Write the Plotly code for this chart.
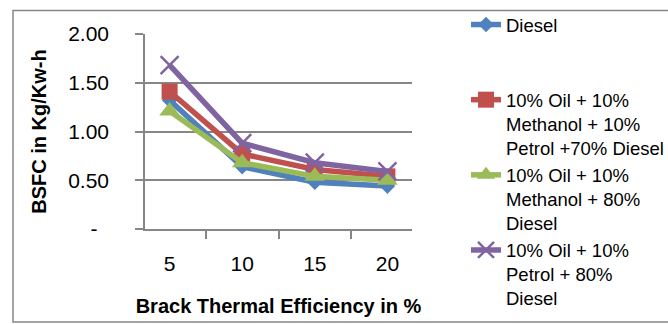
import plotly.graph_objects as go

categories = ["5", "10", "15", "20"]
diesel = [1.32, 0.64, 0.48, 0.44]
blend_m10_p10 = [1.41, 0.77, 0.61, 0.54]
blend_m10 = [1.21, 0.68, 0.54, 0.50]
blend_p10 = [1.68, 0.88, 0.68, 0.59]
y_tickvals = [0, 0.5, 1.0, 1.5, 2.0]
y_ticktext = ["-\u00a0\u00a0", "0.50", "1.00", "1.50", "2.00"]

names = [
    "Diesel<br>\u00a0<br>\u00a0",
    "10% Oil + 10%<br>Methanol + 10%<br>Petrol +70% Diesel",
    "10% Oil + 10%<br>Methanol + 80%<br>Diesel",
    "10% Oil + 10%<br>Petrol + 80%<br>Diesel",
]
series = [diesel, blend_m10_p10, blend_m10, blend_p10]
colors = ["#4F81BD", "#C0504D", "#9BBB59", "#8064A2"]
symbols = ["diamond", "square", "triangle-up", "x-thin"]
sizes = [12, 16, 18, 18]

FONT = "Liberation Sans"
GRID = "#868686"

fig = go.Figure()
for name, vals, col, sym, sz in zip(names, series, colors, symbols, sizes):
    fig.add_trace(go.Scatter(
        x=categories, y=vals, name=name, mode="lines+markers",
        line=dict(color=col, width=5.5),
        marker=dict(symbol=sym, size=sz, color=col,
                    line=dict(color=col, width=2.5 if sym == "x-thin" else 0)),
    ))

W, H = 668, 324
L, R, T, B = 145, 412, 34, 229
pw, ph = R - L, B - T

def px_x(p):
    return (p - L) / pw

def px_y(p):
    return (B - p) / ph

fig.update_layout(
    width=W, height=H,
    margin=dict(l=L, r=W - R, t=T, b=H - B, pad=0, autoexpand=False),
    paper_bgcolor="white", plot_bgcolor="white",
    font=dict(family=FONT, size=18.5, color="black"),
    showlegend=True,
    legend=dict(
        x=px_x(466), y=1 - 6 / H, xanchor="left", yanchor="top",
        yref="container", maxheight=H,
        font=dict(family=FONT, size=18.5, color="black"),
        valign="top", bgcolor="rgba(0,0,0,0)",
        tracegroupgap=0,
    ),
    xaxis=dict(
        type="category", tickson="boundaries", ticks="outside", ticklen=8,
        tickcolor=GRID, tickwidth=1.5,
        showline=True, linecolor=GRID, linewidth=1.5,
        showgrid=False, zeroline=False,
        tickfont=dict(family=FONT, size=21),
        ticklabelstandoff=15,
        title=dict(text="<b>Brack Thermal Efficiency in %</b>",
                   font=dict(family=FONT, size=20), standoff=25),
    ),
    yaxis=dict(
        range=[0, 2], tickvals=y_tickvals, ticktext=y_ticktext,
        ticks="outside", ticklen=8, tickcolor=GRID, tickwidth=1.5,
        showline=True, linecolor=GRID, linewidth=1.5,
        showgrid=True, gridcolor=GRID, gridwidth=1.5, zeroline=False,
        tickfont=dict(family=FONT, size=21),
        ticklabelstandoff=22,
        title=dict(text="<b>BSFC in Kg/Kw-h</b>",
                   font=dict(family=FONT, size=20), standoff=16),
    ),
    shapes=[dict(
        type="rect", xref="paper", yref="paper",
        x0=px_x(13), x1=px_x(672), y0=px_y(322), y1=px_y(10.5),
        line=dict(color=GRID, width=1.5), fillcolor="rgba(0,0,0,0)",
        layer="below",
    )],
)

fig.write_html("out.html")
